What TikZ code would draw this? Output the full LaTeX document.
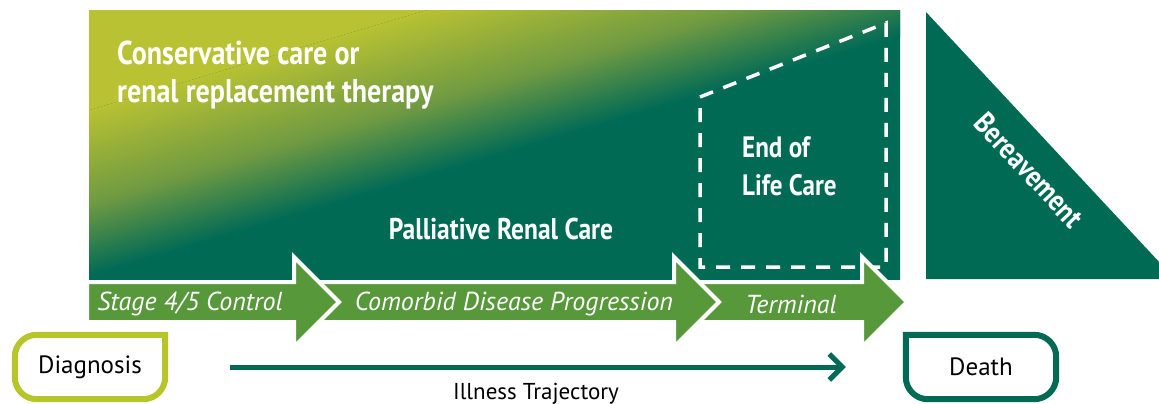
\documentclass[tikz,border=0pt]{standalone}
\usepackage{fontspec}
\setmainfont{PT Sans}
\newfontfamily\condfont{PT Sans}[FakeStretch=0.85]
\usetikzlibrary{arrows.meta}
\definecolor{dkgreen}{RGB}{0,106,85}
\definecolor{midgreen}{RGB}{112,154,66}
\definecolor{ygreen}{RGB}{184,194,50}
\definecolor{bandgreen}{RGB}{86,152,58}
\definecolor{diaggreen}{RGB}{182,198,42}
\tikzstyle{whitetitle}=[text=white, inner sep=0pt, align=left, font=\condfont\bfseries\fontsize{33}{38}\selectfont]
\tikzstyle{stagetext}=[text=white, inner sep=0pt, font=\itshape\fontsize{26}{30}\selectfont]
\tikzstyle{endbox}=[minimum width=150pt, minimum height=64pt, inner sep=0pt, font=\fontsize{25}{29}\selectfont]
\tikzstyle{boxline}=[line width=6pt, rounded corners=22pt, line cap=rect]
\tikzstyle{eolline}=[draw=white, line width=3.5pt, dash pattern=on 14pt off 11pt]
\tikzstyle{trajline}=[draw=dkgreen, line width=5pt, -{Straight Barb[length=13pt, width=26pt]}]
\newcommand{\stagearrow}[5]
{
  \fill[bandgreen, draw=white, line width=4pt, line join=miter] (#1,282) -- (#2,282) -- (#2,257) -- ({#2+45},302) -- (#2,347) -- (#2,322) -- (#1,322) -- cycle;
  \node[stagetext] (#4) at (#3,304) {#5};
}
\begin{document}
\begin{tikzpicture}[x=1pt, y=-1pt]
	\useasboundingbox (0,0) rectangle (1159,404);

	% gradient field, in strips along the slope
	\begin{scope}
		\clip (89,11) rectangle (900,279);
		\begin{scope}[rotate around={16.5:(494.5,145.5)}]
			\fill[dkgreen] (-400,-400) rectangle (1400,700);
			\fill[ygreen] (-400,-400) rectangle (1400,-3.5);
			\foreach \i in {0,...,29}{
				\pgfmathsetmacro{\pct}{100-100*(\i+0.5)/30}
				\fill[ygreen!\pct!midgreen] (-400,{-3.5+3*\i}) rectangle (1400,{-3.5+3*\i+3.6});
			}
			\foreach \i in {0,...,23}{
				\pgfmathsetmacro{\pct}{100-100*(\i+0.5)/24}
				\fill[midgreen!\pct!dkgreen] (-400,{86.5+2.92*\i}) rectangle (1400,{86.5+2.92*\i+3.5});
			}
		\end{scope}
	\end{scope}
	\fill[dkgreen] (926,12) -- (926,279) -- (1175,279) -- cycle;

	\node[whitetitle, anchor=west] (ccrrt) at (117,75) {Conservative care or\\renal replacement therapy};
	\node[whitetitle, anchor=base, font=\condfont\bfseries\fontsize{30}{36}\selectfont] (prc) at (501,239) {Palliative Renal Care};
	\draw[eolline] (700,97) -- (886,23) -- (886,267) -- (700,267) -- cycle;
	\node[whitetitle, anchor=west, font=\condfont\bfseries\fontsize{29.5}{38}\selectfont] (eol) at (742,166) {End of\\Life Care};
	\node[whitetitle, rotate=-47, font=\condfont\bfseries\fontsize{30}{34}\selectfont] (bereave) at (1029,170) {Bereavement};

	% stages, drawn right to left
	\stagearrow{680}{862}{791}{terminal}{Terminal}
	\stagearrow{300}{674}{514}{comorbid}{Comorbid Disease Progression}
	\stagearrow{87}{294}{190}{control}{Stage 4/5 Control}

	\node[endbox] (diag) at (90,367) {Diagnosis};
	\node[endbox] (death) at (981,367) {Death};
	\draw[boxline, draw=diaggreen] (diag.north east) -- (diag.south east) -- (diag.south west) -- (diag.north west) -- (diag.north east);
	\draw[boxline, draw=dkgreen] (death.north west) -- (death.north east) -- (death.south east) -- (death.south west) -- (death.north west);

	\draw[trajline, shorten <=65pt, shorten >=60pt] (diag.east) -- (death.west);
	\node[anchor=base, font=\fontsize{23}{27}\selectfont] (traj) at (536,399) {Illness Trajectory};

\end{tikzpicture}
\end{document}
